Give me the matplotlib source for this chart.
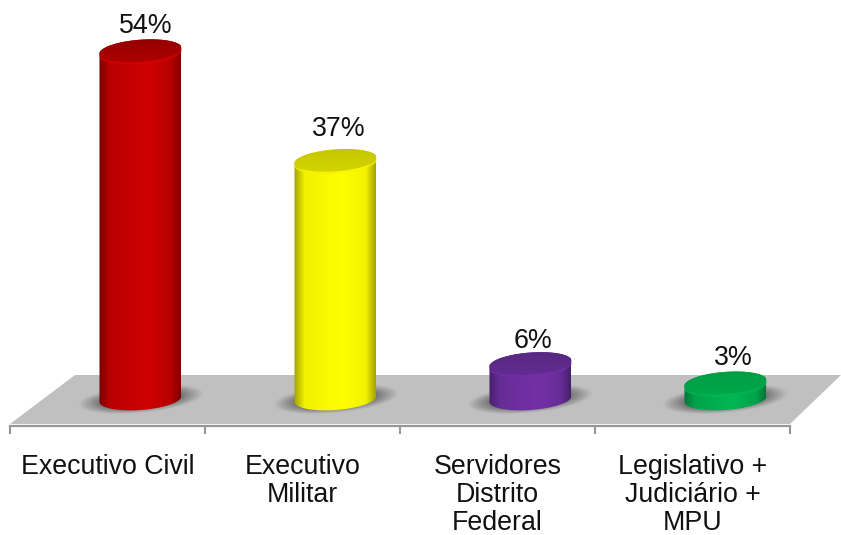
import numpy as np
import matplotlib
matplotlib.use('Agg')
import matplotlib.pyplot as plt
from matplotlib.patches import Polygon
from matplotlib.colors import LinearSegmentedColormap

plt.rcParams['font.family'] = ['Liberation Sans', 'DejaVu Sans']

# data
categorias = ['Executivo Civil', 'Executivo\nMilitar', 'Servidores\nDistrito\nFederal', 'Legislativo +\nJudiciário +\nMPU']
valores = [54, 37, 5.5, 2.5]
rotulos = ['54%', '37%', '6%', '3%']

# side colours: edge, mid, highlight / top colours: back, front
cores_lado = [['#7a0000', '#b80000', '#d00000'], ['#a3a300', '#f2f200', '#ffff00'],
              ['#47206c', '#662c96', '#7530a8'], ['#00773a', '#00a34a', '#00b854']]
cores_topo = [['#940000', '#b00000'], ['#c4c400', '#d6d600'],
              ['#55287e', '#642c94'], ['#009c42', '#00a94c']]
cores_aro = ['#d80000', '#f4f400', '#7030a4', '#00b854']

# label offsets from the top of each bar, points
rot_dx = [3.5, 2.5, 2, 5.5]
rot_dy = [8.7, 13, 6.5, 8.7]

W, H = 841, 535
PX_X = 195.0    # pixels per category
PX_Y = 6.45     # pixels per percent
Y_BASE = 399    # pixel row of value 0
Y_EIXO = 426    # pixel row of the axis line

fig = plt.figure(figsize=(W / 100, H / 100), dpi=100)
ax = fig.add_axes([10 / W, 1 - Y_EIXO / H, 780 / W, Y_EIXO / H])
ax.set_facecolor('none')


def dx(px):
    return np.asarray(px) / PX_X


def dy(px):
    return np.asarray(px) / PX_Y


# floor, given as pixel offsets from the lower left category edge
y0 = (Y_BASE - 424) / PX_Y
y1 = (Y_BASE - 375) / PX_Y
piso = Polygon([(-0.5, y0), (-0.5 + dx(65), y1), (-0.5 + dx(831), y1), (-0.5 + dx(780), y0)],
               closed=True, fc='#c0c0c0', ec='none', clip_on=False, zorder=1)
ax.add_patch(piso)

A = 41.0     # half width of a cylinder, px
B = 11.0     # half height of its ellipse, px
INCL = 0.07  # ellipse tilt
t = np.linspace(0, 2 * np.pi, 181)


def elipse(cx, cy, b=B):
    xs = A * np.cos(t)
    ys = b * np.sin(t) + INCL * xs
    return cx + dx(xs), cy + dy(ys)


for i, v in enumerate(valores):
    cx = i + dx(33)
    cor = cores_lado[i]

    # blurred shadow at the base
    gx, gy = np.meshgrid(np.linspace(-68, 68, 140), np.linspace(-20, 20, 60))
    r = np.sqrt((gx / 60) ** 2 + ((gy + 0.09 * gx) / 13.5) ** 2)
    sombra = np.zeros(r.shape + (4,))
    sombra[..., :3] = 0.36
    sombra[..., 3] = np.clip((1.05 - r) / 0.4, 0, 1) * 0.8
    ax.imshow(sombra, extent=[cx - dx(68), cx + dx(68), dy(-20), dy(20)], origin='upper',
              aspect='auto', zorder=2, interpolation='bilinear')

    # cylinder side
    bx, by = elipse(cx, 0)
    tx, ty = elipse(cx, v)
    baixo = t >= np.pi
    cima = t <= np.pi
    contorno = np.column_stack([np.r_[bx[baixo], tx[cima]], np.r_[by[baixo], ty[cima]]])
    lado = Polygon(contorno, closed=True, transform=ax.transData, fc='none', ec='none')
    cmap = LinearSegmentedColormap.from_list('lado', [(0, cor[0]), (0.13, cor[1]), (0.6, cor[2]),
                                                      (0.88, cor[1]), (1, cor[0])])
    im = ax.imshow(np.linspace(0, 1, 200)[None, :], cmap=cmap, vmin=0, vmax=1, aspect='auto',
                   extent=[cx - dx(A), cx + dx(A), dy(-16), v + dy(16)], zorder=3,
                   interpolation='bilinear')
    im.set_clip_path(lado)

    # bright rim just under the top edge
    aro, = ax.plot(*elipse(cx, v - dy(1.5)), color=cores_aro[i], lw=1.5, alpha=0.7, zorder=3.5)
    aro.set_clip_path(lado)

    # top ellipse
    topo = Polygon(np.column_stack(elipse(cx, v)), closed=True, transform=ax.transData, fc='none', ec='none')
    cmap_t = LinearSegmentedColormap.from_list('topo', cores_topo[i])
    im2 = ax.imshow(np.linspace(0, 1, 50)[:, None], cmap=cmap_t, vmin=0, vmax=1, aspect='auto',
                    extent=[cx - dx(A), cx + dx(A), v - dy(15), v + dy(15)],
                    zorder=4, interpolation='bilinear')
    im2.set_clip_path(topo)

    ax.annotate(rotulos[i], (cx, v), xytext=(rot_dx[i], rot_dy[i]), textcoords='offset points', ha='center',
                va='bottom', fontsize=19.3, color='#111111', zorder=5)

ax.set_xlim(-0.5, 3.5)
ax.set_ylim(dy(Y_BASE - Y_EIXO), dy(Y_BASE))

for lado_ax in ['top', 'left', 'right']:
    ax.spines[lado_ax].set_visible(False)
ax.spines['bottom'].set_color('#969696')
ax.spines['bottom'].set_linewidth(1.6)
ax.set_yticks([])
ax.set_xticks(np.arange(-0.5, 4, 1))
ax.set_xticklabels([])
ax.tick_params(axis='x', which='major', length=5.5, width=1.5, color='#969696')
ax.set_xticks(np.arange(4), minor=True)
ax.set_xticklabels(categorias, minor=True, fontsize=19.3, color='#111111', linespacing=1.08)
ax.tick_params(axis='x', which='minor', length=0, pad=20.5)

fig.savefig('out.png', dpi=100)
